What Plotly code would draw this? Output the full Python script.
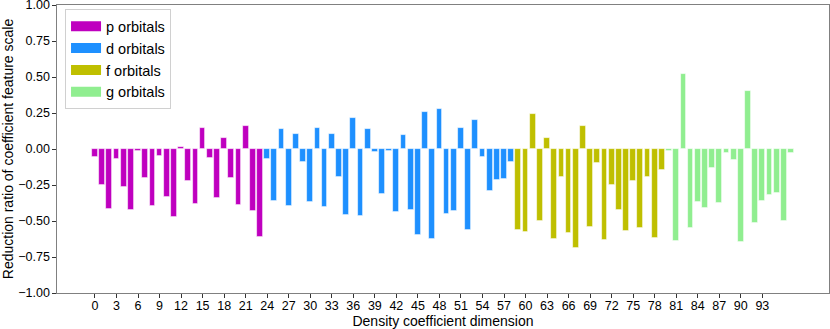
import plotly.graph_objects as go

# dimension indices per orbital group
p_dims = list(range(0, 24))
d_dims = list(range(24, 59))
f_dims = list(range(59, 80))
g_dims = list(range(80, 98))

# reduction ratios
p_vals = [-0.056, -0.25, -0.414, -0.069, -0.266, -0.421, -0.014, -0.204, -0.394, -0.051,
          -0.333, -0.47, 0.016, -0.22, -0.384, 0.144, -0.063, -0.34, 0.076, -0.199,
          -0.387, 0.162, -0.433, -0.609]
d_vals = [-0.072, -0.359, 0.139, -0.394, 0.102, -0.088, -0.368, 0.144, -0.403, 0.106,
          -0.192, -0.461, 0.213, -0.463, 0.139, -0.019, -0.31, -0.016, -0.44, 0.095,
          -0.426, -0.595, 0.259, -0.623, 0.278, -0.451, -0.433, 0.148, -0.563, 0.199,
          -0.053, -0.292, -0.213, -0.211, -0.093]
f_vals = [-0.56, -0.576, 0.243, -0.502, 0.074, -0.623, -0.192, -0.583, -0.685, 0.157,
          -0.539, -0.095, -0.634, -0.252, -0.426, -0.567, -0.22, -0.549, -0.194, -0.616,
          -0.148]
g_vals = [-0.014, -0.639, 0.519, -0.546, -0.37, -0.407, -0.13, -0.377, -0.028, -0.074,
          -0.648, 0.405, -0.514, -0.359, -0.322, -0.308, -0.498, -0.028]

groups = [
    ("p orbitals", p_dims, p_vals, "#bf00bf"),
    ("d orbitals", d_dims, d_vals, "#1e90ff"),
    ("f orbitals", f_dims, f_vals, "#bfbf00"),
    ("g orbitals", g_dims, g_vals, "#90ee90"),
]

x_ticks = list(range(0, 94, 3))
y_ticks = [-1.0, -0.75, -0.5, -0.25, 0.0, 0.25, 0.5, 0.75, 1.0]

FONT = "Liberation Sans, Arial, sans-serif"
SPINE = "#808080"

fig = go.Figure()

for name, dims, vals, color in groups:
    fig.add_trace(
        go.Bar(
            x=dims,
            y=vals,
            width=0.8,
            marker={"color": color, "line": {"color": "rgba(255,255,255,0.7)", "width": 0.8}},
            name=name,
            showlegend=False,
        )
    )
    # wide rectangular legend swatch, like matplotlib's patch
    fig.add_trace(
        go.Scatter(
            x=[None],
            y=[None],
            mode="lines",
            line={"color": color, "width": 11},
            name=name,
            showlegend=True,
        )
    )

axis_style = dict(
    tickmode="array",
    ticks="outside",
    ticklen=3.5,
    tickcolor="#333333",
    showline=True,
    linecolor=SPINE,
    linewidth=1.2,
    mirror=True,
    showgrid=False,
    zeroline=False,
    automargin=False,
    ticklabeloverflow="allow",
    tickfont={"size": 12.5, "color": "black"},
)

fig.update_xaxes(
    range=[-5.29, 102.29],
    tickvals=x_ticks,
    ticklabelstandoff=-3,
    title={"text": "Density coefficient dimension", "font": {"size": 14, "color": "black"}, "standoff": 1},
    **axis_style,
)
fig.update_yaxes(
    range=[-1, 1],
    tickvals=y_ticks,
    tickformat=".2f",
    title={"text": "Reduction ratio of coefficient feature scale", "font": {"size": 14, "color": "black"}, "standoff": 2},
    **axis_style,
)

fig.update_layout(
    width=830,
    height=329,
    margin={"l": 57, "r": 1, "t": 5, "b": 36},
    paper_bgcolor="white",
    plot_bgcolor="white",
    font={"family": FONT, "color": "black"},
    bargap=0,
    legend={
        "x": 0.0104,
        "y": 0.985,
        "xanchor": "left",
        "yanchor": "top",
        "bgcolor": "rgba(255,255,255,0.8)",
        "bordercolor": "#d0d0d0",
        "borderwidth": 1,
        "font": {"size": 14.5},
        "tracegroupgap": 0,
    },
)

# drop the default page margin so the figure sits at the window's top-left corner
fig.write_html(
    "out.html",
    config={"displayModeBar": False},
    post_script="document.body.style.margin='0';document.body.style.overflow='hidden';",
)
